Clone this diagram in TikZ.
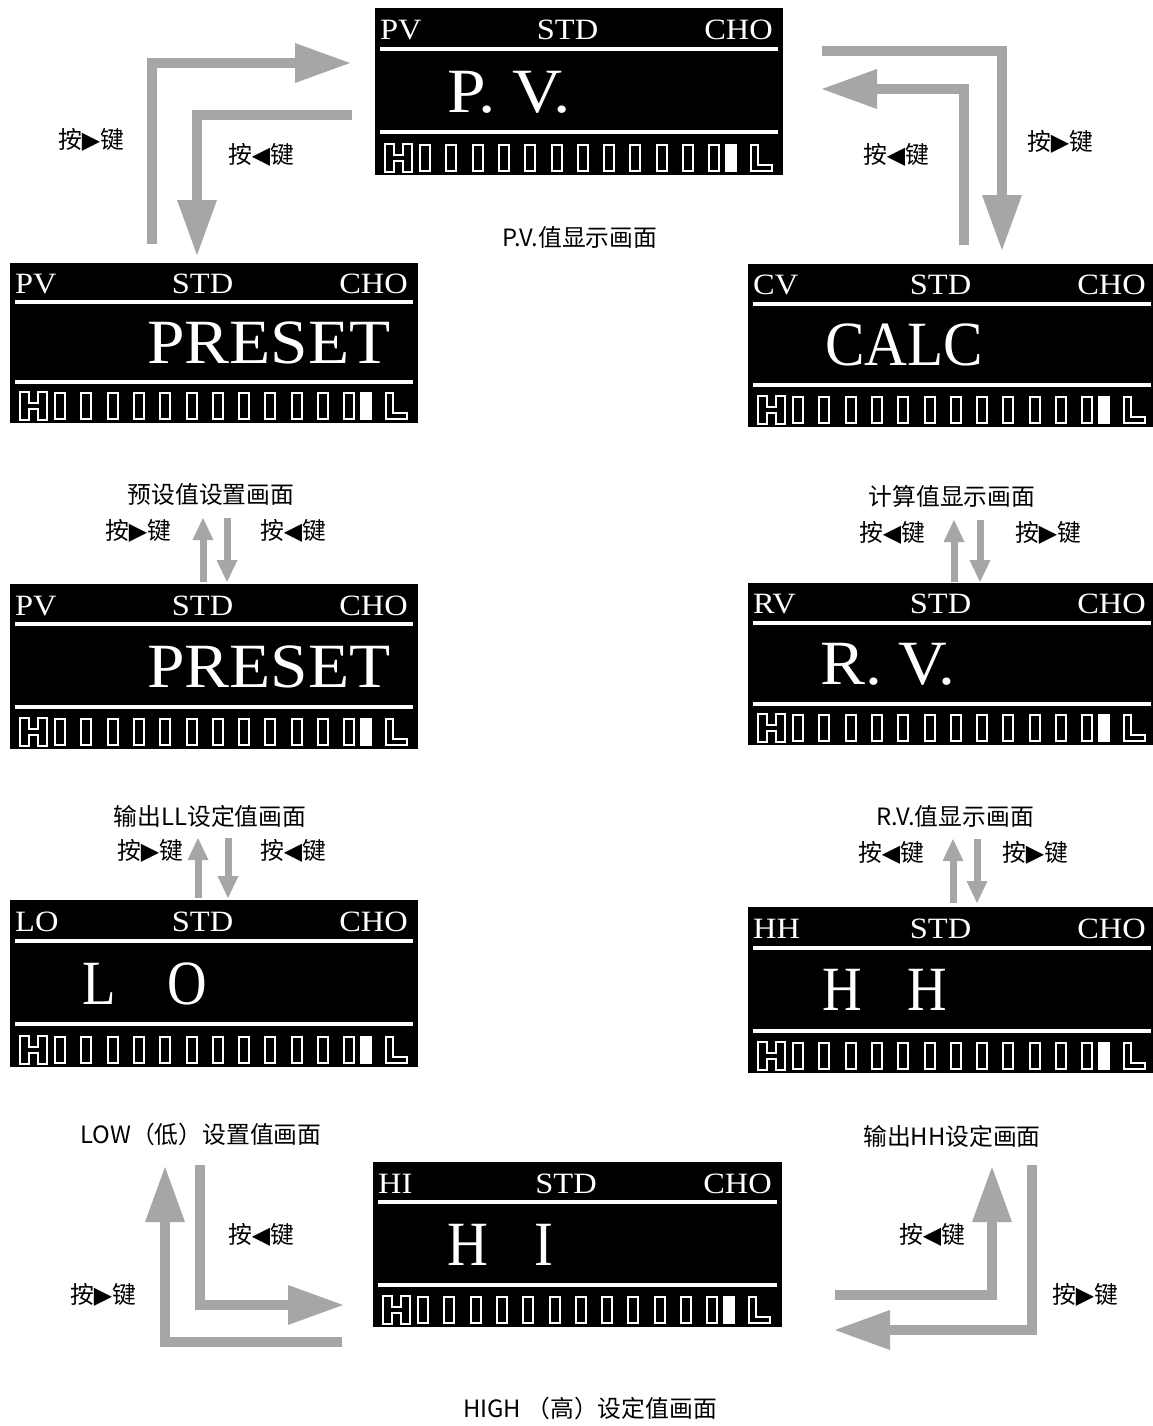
\documentclass[tikz,border=0pt]{standalone}
\usepackage{fontspec}
\usepackage{graphicx}
\setmainfont{Liberation Serif}
\newfontfamily\cjkfont{Noto Sans CJK SC}
\newfontfamily\symfont{DejaVu Sans}
\usetikzlibrary{arrows.meta}
\definecolor{arrowgray}{RGB}{166,166,166}
\newcommand\kR{按{\symfont ▶}键}
\newcommand\kL{按{\symfont ◀}键}
\newcommand\hdrtxt[1]{\scalebox{1.1}[1]{#1}}
\tikzset{
  lcdbg/.style={fill=black, draw=none, inner sep=0pt, outer sep=0pt, anchor=north west},
  hdr/.style={text=white, font=\fontsize{29.5}{29.5}\selectfont, inner sep=0pt},
  bigtxt/.style={text=white, font=\fontsize{63}{63}\selectfont, inner sep=0pt},
  lab/.style={font=\cjkfont\fontsize{23.8}{23.8}\selectfont, inner sep=0pt, text height=0.8em, text depth=0.2em, text=black},
  seg/.style={draw=white, line width=2pt, fill=black},
  lcdrule/.style={draw=white, line width=4pt},
  bigarrow/.style={draw=arrowgray, line width=10pt, line join=miter, -{Triangle[width=40pt,length=55pt,line width=0pt]}},
  smallarrow/.style={draw=arrowgray, line width=7pt, -{Triangle[width=21pt,length=22pt,line width=0pt]}},
}
\newcommand\lcd[9]{%
  \pgfmathsetmacro\Plx{#2}\pgfmathsetmacro\Ply{#3}\pgfmathsetmacro\Prx{#4}\pgfmathsetmacro\Pby{#5}%
  \pgfmathsetmacro\Phh{#5-#3}\pgfmathsetmacro\Pww{#4-#2}%
  \node[lcdbg, minimum width=\Pww pt, minimum height=\Phh pt] (#1) at (\Plx,\Ply) {};
  \pgfmathsetmacro\Phy{\Ply+0.19*\Phh}%
  \node[hdr, anchor=base west] (#1-l) at (\Plx+5,\Phy) {\hdrtxt{#6}};
  \node[hdr, anchor=base] (#1-s) at (\Plx+0.472*\Pww,\Phy) {\hdrtxt{STD}};
  \node[hdr, anchor=base east] (#1-c) at (\Prx-10,\Phy) {\hdrtxt{CHO}};
  \pgfmathsetmacro\Pra{\Ply+0.245*\Phh}\pgfmathsetmacro\Prb{\Ply+0.745*\Phh}%
  \draw[lcdrule] (\Plx+5,\Pra) -- (\Prx-5,\Pra);
  \draw[lcdrule] (\Plx+5,\Prb) -- (\Prx-5,\Prb);
  \node[bigtxt, anchor=base west] (#1-m) at (\Plx+#7,\Ply+0.625*\Phh) {\scalebox{#8}[1]{#9}};
  \begin{scope}[shift={(\Plx,\Pby-31)}]
    \draw[seg] (10,0) -- (19,0) -- (19,11) -- (28,11) -- (28,0) -- (37,0) -- (37,28) -- (28,28) -- (28,17) -- (19,17) -- (19,28) -- (10,28) -- cycle;
    \foreach \i in {0,...,11} \draw[seg] ({45+26.3*\i},1) rectangle ++(10,26);
    \fill[white] (350,0) rectangle (362,28);
    \draw[seg] (376,1) -- (383,1) -- (383,21) -- (397,21) -- (397,27) -- (376,27) -- cycle;
  \end{scope}
}
\begin{document}
\begin{tikzpicture}[x=1pt,y=-1pt]
\fill[white] (0,0) rectangle (1153,1426);
\useasboundingbox (0,0) rectangle (1153,1426);

% panels
\lcd{pv}{375}{8}{783}{175}{PV}{72}{1.1}{P. V.}
\lcd{ps1}{10}{263}{418}{423}{PV}{137}{1.07}{PRESET}
\lcd{calc}{748}{264}{1156}{427}{CV}{77}{0.94}{CALC}
\lcd{ps2}{10}{584}{418}{749}{PV}{137}{1.07}{PRESET}
\lcd{rv}{748}{583}{1156}{745}{RV}{72}{1.07}{R. V.}
\lcd{lo}{10}{900}{418}{1067}{LO}{72}{0.87}{L\hspace{60pt}O}
\lcd{hh}{748}{907}{1156}{1073}{HH}{74}{0.87}{H\hspace{52pt}H}
\lcd{hi}{373}{1162}{782}{1327}{HI}{74}{0.9}{H\hspace{52pt}I}

% big arrow end points
\coordinate (a1) at (152,244); \coordinate (a2) at (350,63);
\coordinate (b1) at (352,115); \coordinate (b2) at (197,255);
\coordinate (c1) at (822,51);  \coordinate (c2) at (1002,250);
\coordinate (d1) at (964,245); \coordinate (d2) at (822,89);
\coordinate (e1) at (342,1342); \coordinate (e2) at (165,1167);
\coordinate (f1) at (200,1165); \coordinate (f2) at (343,1305);
\coordinate (g1) at (835,1295); \coordinate (g2) at (992,1167);
\coordinate (h1) at (1032,1165); \coordinate (h2) at (835,1330);

\draw[bigarrow] (a1) |- (a2);
\draw[bigarrow] (b1) -| (b2);
\draw[bigarrow] (c1) -| (c2);
\draw[bigarrow] (d1) |- (d2);
\draw[bigarrow] (e1) -| (e2);
\draw[bigarrow] (f1) |- (f2);
\draw[bigarrow] (g1) -| (g2);
\draw[bigarrow] (h1) |- (h2);

% small arrow pairs
\coordinate (p1a) at (203,582); \coordinate (p1b) at (203,518);
\coordinate (p2a) at (227,518); \coordinate (p2b) at (227,582);
\coordinate (q1a) at (954,582); \coordinate (q1b) at (954,520);
\coordinate (q2a) at (980,520); \coordinate (q2b) at (980,582);
\coordinate (r1a) at (198,898); \coordinate (r1b) at (198,838);
\coordinate (r2a) at (228,838); \coordinate (r2b) at (228,898);
\coordinate (s1a) at (953,903); \coordinate (s1b) at (953,839);
\coordinate (s2a) at (977,839); \coordinate (s2b) at (977,903);
\draw[smallarrow] (p1a) -- (p1b);
\draw[smallarrow] (p2a) -- (p2b);
\draw[smallarrow] (q1a) -- (q1b);
\draw[smallarrow] (q2a) -- (q2b);
\draw[smallarrow] (r1a) -- (r1b);
\draw[smallarrow] (r2a) -- (r2b);
\draw[smallarrow] (s1a) -- (s1b);
\draw[smallarrow] (s2a) -- (s2b);

% labels
\node[lab] (t1) at (91,145) {\kR};
\node[lab] (t2) at (261,160) {\kL};
\node[lab] (t3) at (896,160) {\kL};
\node[lab] (t4) at (1060,147) {\kR};
\node[lab] (t5) at (580,243) {P.V.值显示画面};
\node[lab] (t6) at (211,500) {预设值设置画面};
\node[lab] (t7) at (138,536) {\kR};
\node[lab] (t8) at (293,536) {\kL};
\node[lab] (t9) at (952,502) {计算值显示画面};
\node[lab] (t10) at (892,538) {\kL};
\node[lab] (t11) at (1048,538) {\kR};
\node[lab] (t12) at (210,822) {输出LL设定值画面};
\node[lab] (t13) at (150,856) {\kR};
\node[lab] (t14) at (293,856) {\kL};
\node[lab] (t15) at (955,822) {R.V.值显示画面};
\node[lab] (t16) at (891,858) {\kL};
\node[lab] (t17) at (1035,858) {\kR};
\node[lab] (t18) at (201,1140) {LOW（低）设置值画面};
\node[lab] (t19) at (261,1240) {\kL};
\node[lab] (t20) at (103,1300) {\kR};
\node[lab] (t21) at (952,1142) {输出HH设定画面};
\node[lab] (t22) at (932,1240) {\kL};
\node[lab] (t23) at (1085,1300) {\kR};
\node[lab] (t24) at (590,1414) {HIGH （高）设定值画面};
\end{tikzpicture}
\end{document}
